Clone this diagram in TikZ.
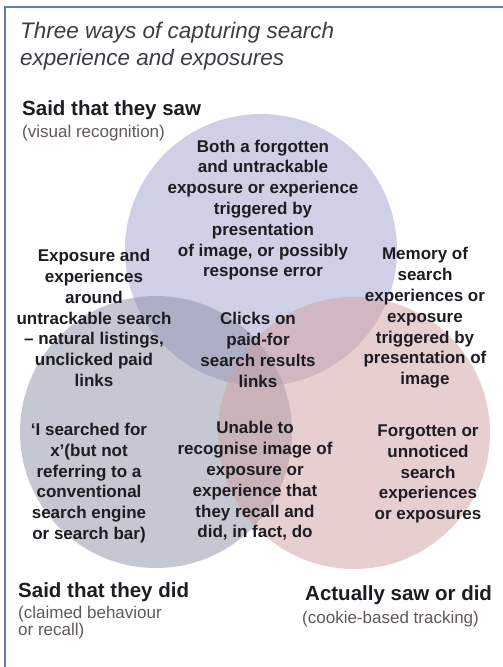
\documentclass[tikz,border=0pt]{standalone}
\usepackage{fontspec}
\setmainfont{Liberation Sans}
\definecolor{frame_blue}{RGB}{95,125,185}
\definecolor{set_blue}{RGB}{159,159,205}
\definecolor{set_gray}{RGB}{139,145,165}
\definecolor{set_red}{RGB}{209,159,159}
\definecolor{title_gray}{RGB}{60,60,68}
\definecolor{note_gray}{RGB}{95,88,92}
\definecolor{cell_black}{RGB}{30,28,34}

\begin{document}
\begin{tikzpicture}[x=1pt,y=-1pt]
    \tikzstyle{set}=[circle, minimum size=272pt, inner sep=0pt, draw=none, fill opacity=0.5]
    \tikzstyle{saw}=[style=set, fill=set_blue]
    \tikzstyle{did}=[style=set, fill=set_gray]
    \tikzstyle{tracked}=[style=set, fill=set_red]
    \tikzstyle{cell}=[align=center, inner sep=0pt, text=cell_black, font=\bfseries\fontsize{17}{20.8}\selectfont]
    \tikzstyle{head}=[anchor=base west, inner sep=0pt, text=cell_black, font=\bfseries\fontsize{20.5}{24}\selectfont]
    \tikzstyle{note}=[anchor=base west, align=left, inner sep=0pt, text=note_gray, font=\fontsize{17}{17}\selectfont]

    \useasboundingbox (0,0) rectangle (503,667);
    \draw[frame_blue, line width=1.5pt] (5,667) -- (5,7) -- (503,7);

    \node[anchor=north west, align=left, inner sep=0pt, text=title_gray,
          font=\itshape\fontsize{22.5}{27}\selectfont] (title) at (20,22)
          {Three ways of capturing search\\experience and exposures};

    % the three sets
    \node[saw] (sawset) at (261,250) {};
    \node[did] (didset) at (156,432) {};
    \node[tracked] (trackset) at (354,433) {};

    % what falls in each region
    \node[cell] (sawonly) at (263,210) {Both a forgotten\\and untrackable\\exposure or experience\\triggered by\\presentation\\of image, or possibly\\response error};
    \node[cell] (sawdid) at (94,318) {Exposure and\\experiences\\around\\untrackable search\\-- natural listings,\\unclicked paid\\links};
    \node[cell] (all) at (258,350) {Clicks on\\paid-for\\search results\\links};
    \node[cell] (sawtrack) at (425,318) {Memory of\\search\\experiences or\\exposure\\triggered by\\presentation of\\image};
    \node[cell] (didonly) at (89,483) {‘I searched for\\x’(but not\\referring to a\\conventional\\search engine\\or search bar)};
    \node[cell] (didtrack) at (255,481) {Unable to\\recognise image of\\exposure or\\experience that\\they recall and\\did, in fact, do};
    \node[cell] (trackonly) at (428,474) {Forgotten or\\unnoticed\\search\\experiences\\or exposures};

    % set names
    \node[head] (sawname) at (22,115) {Said that they saw};
    \node[note] (sawnote) at (22,137) {(visual recognition)};
    \node[head] (didname) at (18,597) {Said that they did};
    \node[note, anchor=north west] (didnote) at (18,606) {(claimed behaviour\\or recall)};
    \node[head] (trackname) at (305,600) {Actually saw or did};
    \node[note] (tracknote) at (302,623) {(cookie-based tracking)};
\end{tikzpicture}
\end{document}
